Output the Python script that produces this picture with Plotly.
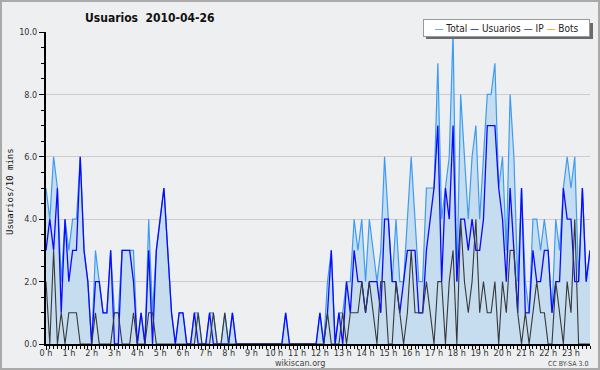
import plotly.graph_objects as go

# ---- data: one value per 10-minute slot (144 slots, 0 h .. 23 h 50) ----
hour_labels = [f"{h} h" for h in range(24)]

usuarios = [
    3, 4, 3, 5, 1, 4, 2, 3, 3, 6, 3, 2,
    0, 2, 2, 1, 1, 3, 0, 0, 3, 3, 3, 2,
    0, 1, 0, 3, 0, 3, 4, 5, 3, 1, 0, 1,
    1, 0, 0, 1, 0, 0, 0, 1, 0, 0, 0, 0,
    0, 1, 0, 0, 0, 0, 0, 0, 0, 0, 0, 0,
    0, 0, 0, 1, 0, 0, 0, 0, 0, 0, 0, 0,
    1, 0, 1, 3, 0, 1, 0, 2, 1, 3, 2, 2,
    1, 2, 2, 2, 1, 4, 4, 2, 2, 1, 2, 3,
    3, 3, 1, 1, 3, 4, 5, 7, 2, 5, 4, 7,
    2, 4, 4, 3, 4, 3, 3, 4, 7, 7, 7, 5,
    4, 2, 5, 3, 1, 5, 1, 1, 3, 2, 2, 3,
    3, 1, 2, 2, 5, 4, 4, 2, 2, 5, 2, 3,
]

ip = [
    2, 0, 3, 0, 1, 0, 1, 1, 1, 0, 0, 0,
    0, 1, 0, 0, 0, 0, 1, 1, 0, 0, 0, 1,
    0, 0, 0, 1, 1, 0, 0, 0, 0, 0, 0, 0,
    0, 0, 0, 0, 1, 0, 0, 0, 1, 0, 0, 1,
    0, 0, 0, 0, 0, 0, 0, 0, 0, 0, 0, 0,
    0, 0, 0, 0, 0, 0, 0, 0, 0, 0, 0, 0,
    0, 0, 1, 0, 0, 0, 1, 0, 1, 1, 1, 2,
    1, 2, 1, 0, 2, 2, 0, 0, 2, 1, 0, 1,
    3, 1, 1, 1, 2, 1, 0, 2, 2, 0, 2, 3,
    0, 4, 2, 1, 2, 4, 1, 2, 1, 1, 2, 0,
    2, 1, 3, 3, 1, 0, 1, 0, 1, 2, 1, 1,
    0, 0, 2, 1, 0, 2, 1, 4, 0, 0, 0, 0,
]

total = [
    5, 4, 6, 5, 2, 4, 3, 4, 4, 6, 3, 2,
    0, 3, 2, 1, 1, 3, 1, 1, 3, 3, 3, 3,
    0, 1, 0, 4, 1, 3, 4, 5, 3, 1, 0, 1,
    1, 0, 0, 1, 1, 0, 0, 1, 1, 0, 0, 1,
    0, 1, 0, 0, 0, 0, 0, 0, 0, 0, 0, 0,
    0, 0, 0, 1, 0, 0, 0, 0, 0, 0, 0, 0,
    1, 0, 2, 3, 0, 1, 1, 2, 2, 4, 3, 4,
    2, 4, 3, 2, 3, 6, 4, 2, 4, 2, 2, 4,
    6, 4, 2, 2, 5, 5, 5, 9, 4, 5, 6, 10,
    2, 8, 6, 4, 6, 7, 4, 6, 8, 8, 9, 5,
    6, 3, 8, 6, 2, 5, 2, 1, 4, 4, 3, 4,
    3, 1, 4, 3, 5, 6, 5, 6, 2, 5, 2, 3,
]

bots = [
    0, 0, 0, 0, 0, 0, 0, 0, 0, 0, 0, 0,
    0, 0, 0, 0, 0, 0, 0, 0, 0, 0, 0, 0,
    0, 0, 0, 0, 0, 0, 0, 0, 0, 0, 0, 0,
    0, 0, 0, 0, 0, 0, 0, 0, 0, 0, 0, 0,
    0, 0, 0, 0, 0, 0, 0, 0, 0, 0, 0, 0,
    0, 0, 0, 0, 0, 0, 0, 0, 0, 0, 0, 0,
    0, 0, 0, 0, 0, 0, 0, 0, 0, 0, 0, 0,
    0, 0, 0, 0, 0, 0, 0, 0, 0, 0, 0, 0,
    0, 0, 0, 0, 0, 0, 0, 0, 0, 0, 0, 0,
    0, 0, 0, 0, 0, 0, 0, 0, 0, 0, 0, 0,
    0, 0, 0, 0, 0, 0, 0, 0, 0, 0, 0, 0,
    0, 0, 0, 0, 0, 0, 0, 0, 0, 0, 0, 0,
]

# slot position in hours
slot_x = [i / 6 for i in range(len(total))]

C_TOTAL = "#3d9cf2"
C_FILL = "#c6dcef"
C_USR = "#0a0aff"
C_IP = "#383838"
C_BOTS = "#ff9900"
BG = "#eeeff0"

W, H = 600, 370
ML, MR, MT, MB = 46, 10, 32, 26
PW, PH = W - ML - MR, H - MT - MB


def px(x):
    return (x - ML) / PW


def py(y):
    return (H - MB - y) / PH


fig = go.Figure()
fig.add_trace(go.Scatter(x=slot_x, y=bots, mode="lines", name="Bots",
                         line=dict(color=C_BOTS, width=1)))
fig.add_trace(go.Scatter(x=slot_x, y=total, mode="lines", name="Total",
                         line=dict(color=C_TOTAL, width=1.2),
                         fill="tozeroy", fillcolor=C_FILL))
fig.add_trace(go.Scatter(x=slot_x, y=usuarios, mode="lines", name="Usuarios",
                         line=dict(color=C_USR, width=1.3)))
fig.add_trace(go.Scatter(x=slot_x, y=ip, mode="lines", name="IP",
                         line=dict(color=C_IP, width=1.1)))

tick_font = dict(family="DejaVu Sans Condensed, Liberation Sans Narrow, Liberation Sans", size=9, color="#333")

fig.update_layout(
    width=W, height=H,
    margin=dict(l=ML, r=MR, t=MT, b=MB, pad=0, autoexpand=False),
    paper_bgcolor=BG, plot_bgcolor=BG,
    showlegend=False,
    title=dict(text="Usuarios\u00a0\u00a02010-04-26", x=px(85), xref="paper", xanchor="left",
               y=1 - 18 / H, yref="container", yanchor="middle", automargin=False,
               font=dict(family="DejaVu Sans Condensed, DejaVu Sans", size=12, color="#111", weight="bold")),
    xaxis=dict(range=[0, slot_x[-1]], tickmode="array", tickvals=list(range(24)), ticktext=hour_labels,
               ticks="outside", ticklen=4, tickcolor="black", tickwidth=1, automargin=False,
               ticklabelstandoff=-5,
               showline=True, linecolor="black", linewidth=2, showgrid=False, zeroline=False,
               tickfont=tick_font,
               minor=dict(tickmode="linear", tick0=0, dtick=1 / 6, ticks="outside", ticklen=3,
                          tickcolor="black", showgrid=False)),
    yaxis=dict(range=[0, 10], tickmode="linear", tick0=0, dtick=2, tickformat=".1f",
               ticks="outside", ticklen=5, tickcolor="black", tickwidth=1, automargin=False,
               showline=True, linecolor="black", linewidth=2,
               showgrid=True, gridcolor="#cccccc", gridwidth=1, zeroline=False,
               tickfont=tick_font,
               minor=dict(tickmode="linear", tick0=0, dtick=0.5, ticks="outside", ticklen=3,
                          tickcolor="black", showgrid=False)),
)

legend_text = (f'<span style="color:{C_TOTAL}">—</span> Total '
               f'<span style="color:{C_USR}">—</span> Usuarios '
               f'<span style="color:{C_IP}">—</span> IP '
               f'<span style="color:{C_BOTS}">—</span> Bots')

# legend shadow
fig.add_shape(type="rect", xref="paper", yref="paper",
              x0=px(426), x1=px(593), y0=py(39), y1=py(23),
              fillcolor="#6a6a6a", line=dict(width=0), layer="above")
# figure frame
fig.add_shape(type="rect", xref="paper", yref="paper",
              x0=px(1), x1=px(599), y0=py(369), y1=py(1),
              fillcolor="rgba(0,0,0,0)", line=dict(color="#aaaaaa", width=2), layer="above")

fig.add_annotation(text=legend_text, xref="paper", yref="paper", x=px(590), y=py(28),
                   xanchor="right", yanchor="middle", showarrow=False,
                   width=161, height=12, align="center",
                   bgcolor="white", bordercolor="#999999", borderwidth=1, borderpad=2,
                   font=dict(family="DejaVu Sans Condensed, Liberation Sans", size=10, color="#222"))

fig.add_annotation(text="Usuarios/10 mins", xref="paper", yref="paper", x=px(10), y=py(192),
                   xanchor="center", yanchor="middle", textangle=-90, showarrow=False,
                   font=dict(family="DejaVu Sans Mono", size=9, color="#111"))

fig.add_annotation(text="wikiscan.org", xref="paper", yref="paper", x=px(300), y=py(363),
                   xanchor="center", yanchor="middle", showarrow=False,
                   font=dict(family="DejaVu Sans Condensed, Liberation Sans", size=9, color="#444"))
fig.add_annotation(text="CC BY-SA 3.0", xref="paper", yref="paper", x=px(590), y=py(364),
                   xanchor="right", yanchor="middle", showarrow=False,
                   font=dict(family="DejaVu Sans Condensed, Liberation Sans", size=7, color="#444"))

fig.write_html(
    "out.html",
    config={"displayModeBar": False},
    post_script=("document.documentElement.style.margin='0';document.documentElement.style.overflow='hidden';"
                 "document.body.style.margin='0';document.body.style.padding='0';document.body.style.overflow='hidden';"),
)
